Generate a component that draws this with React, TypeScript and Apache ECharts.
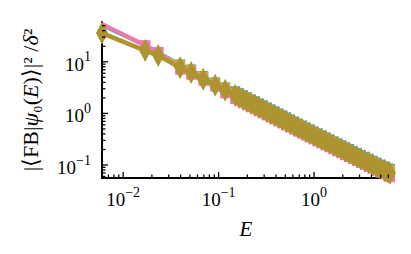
import React, { useEffect, useRef } from "react";
import * as echarts from "echarts";

// Energies (x) shared by all series
const E = [
  0.006, 0.017, 0.0233, 0.0395, 0.0515, 0.069, 0.092, 0.117,
  0.149, 0.164, 0.18, 0.198, 0.218, 0.24, 0.264, 0.29, 0.32, 0.35,
  0.385, 0.425, 0.465, 0.51, 0.56, 0.62, 0.68, 0.75, 0.82, 0.9,
  0.99, 1.09, 1.2, 1.32, 1.45, 1.6, 1.76, 1.93, 2.12, 2.33,
  2.56, 2.82, 3.1, 3.4, 3.75, 4.1, 4.5, 5.0, 5.5, 6.0, 6.25,
];

const blueY = [
  50, 20.5, 15.5, 8.9, 7.1, 5.3, 4.0, 3.2,
  2.7, 2.47, 2.26, 2.06, 1.88, 1.73, 1.57, 1.44, 1.31, 1.2,
  1.1, 1.0, 0.918, 0.84, 0.768, 0.696, 0.636, 0.582, 0.534, 0.492,
  0.45, 0.412, 0.377, 0.344, 0.316, 0.288, 0.264, 0.242, 0.222, 0.204,
  0.187, 0.172, 0.157, 0.144, 0.132, 0.121, 0.112, 0.102, 0.094, 0.086, 0.083,
];
const greenY = [
  51, 20.1, 15.2, 8.75, 7.0, 5.2, 3.93, 3.14,
  2.59, 2.37, 2.16, 1.98, 1.81, 1.66, 1.51, 1.38, 1.25, 1.15,
  1.05, 0.96, 0.88, 0.805, 0.736, 0.667, 0.61, 0.558, 0.512, 0.472,
  0.431, 0.394, 0.361, 0.33, 0.302, 0.276, 0.253, 0.232, 0.213, 0.196,
  0.179, 0.164, 0.151, 0.138, 0.127, 0.116, 0.107, 0.098, 0.09, 0.083, 0.079,
];
const orangeY = [
  55, 19.8, 15.0, 8.6, 6.9, 5.1, 3.86, 3.08,
  2.52, 2.31, 2.11, 1.93, 1.76, 1.61, 1.47, 1.34, 1.22, 1.12,
  1.02, 0.935, 0.857, 0.784, 0.717, 0.65, 0.594, 0.543, 0.498, 0.459,
  0.42, 0.384, 0.352, 0.321, 0.295, 0.269, 0.246, 0.226, 0.207, 0.19,
  0.175, 0.16, 0.147, 0.134, 0.123, 0.113, 0.104, 0.095, 0.087, 0.081, 0.077,
];
const pinkY = [
  54, 21, 15.5, 7.0, 5.6, 4.3, 3.3, 2.45,
  1.89, 1.73, 1.58, 1.44, 1.32, 1.21, 1.1, 1.01, 0.916, 0.84,
  0.769, 0.701, 0.643, 0.588, 0.538, 0.487, 0.445, 0.407, 0.374, 0.344,
  0.315, 0.288, 0.264, 0.241, 0.221, 0.202, 0.185, 0.17, 0.155, 0.143,
  0.131, 0.12, 0.11, 0.101, 0.092, 0.085, 0.078, 0.071, 0.066, 0.06, 0.058,
];
const oliveY = [
  36, 16.5, 13.2, 7.7, 6.2, 4.6, 3.5, 2.8,
  2.25, 2.06, 1.88, 1.72, 1.57, 1.44, 1.31, 1.2, 1.09, 1.0,
  0.915, 0.835, 0.765, 0.7, 0.64, 0.58, 0.53, 0.485, 0.445, 0.41,
  0.375, 0.343, 0.314, 0.287, 0.263, 0.24, 0.22, 0.202, 0.185, 0.17,
  0.156, 0.143, 0.131, 0.12, 0.11, 0.101, 0.093, 0.085, 0.078, 0.072, 0.069,
];

const X_MIN = 0.006;
const X_MAX = 6.25;
const Y_MIN = 0.056;
const Y_MAX = 59;

const X_MAJOR = [0.01, 0.1, 1];
const X_MINOR = [
  0.006, 0.007, 0.008, 0.009,
  0.02, 0.03, 0.04, 0.05, 0.06, 0.07, 0.08, 0.09,
  0.2, 0.3, 0.4, 0.5, 0.6, 0.7, 0.8, 0.9,
  2, 3, 4, 5, 6,
];
const Y_MAJOR = [0.1, 1, 10];
const Y_MINOR = [
  0.06, 0.07, 0.08, 0.09,
  0.2, 0.3, 0.4, 0.5, 0.6, 0.7, 0.8, 0.9,
  2, 3, 4, 5, 6, 7, 8, 9,
  20, 30, 40, 50,
];

const COLORS = {
  blue: "#4aaee0",
  green: "#4fb07a",
  orange: "#e6a040",
  pink: "#ee78b4",
  olive: "#ae9331",
};

const FONT = "Liberation Serif";
const DIAMOND = "path://M0,-10L5,0L0,10L-5,0Z";

const powLabel = (v: number) => {
  const l = Math.log10(v);
  const k = Math.round(l);
  if (Math.abs(l - k) > 1e-6) return "";
  const s = k < 0 ? "\u2212" + -k : String(k);
  return `{b|10}{s|${s}}`;
};

const labelRich = {
  b: { fontSize: 19, fontFamily: FONT, color: "#000", lineHeight: 24, verticalAlign: "bottom" },
  s: { fontSize: 14, fontFamily: FONT, color: "#000", lineHeight: 24, verticalAlign: "top" },
};

export default function App() {
  const ref = useRef<HTMLDivElement>(null);
  useEffect(() => {
    if (!ref.current) return;
    const chart = echarts.init(ref.current, null, { renderer: "svg" });

    const mk = (
      name: string,
      ys: number[],
      color: string,
      symbol: string,
      size: any,
      lw: number,
      z: number,
      hideFirst: boolean
    ) => ({
      name,
      type: "line",
      z,
      data: E.map((e, i) =>
        i === 0 && hideFirst ? { value: [e, ys[i]], symbol: "none" } : [e, ys[i]]
      ),
      symbol,
      symbolSize: size,
      symbolKeepAspect: false,
      showSymbol: true,
      showAllSymbol: true,
      lineStyle: { color, width: lw },
      itemStyle: { color, borderWidth: 0 },
      clip: true,
      silent: true,
    });

    const xTick = (vals: number[], len: number) => ({
      type: "custom",
      silent: true,
      clip: false,
      data: vals.map((v) => [v, Y_MIN, len]),
      renderItem: (_p: any, api: any) => {
        const p = api.coord([api.value(0), api.value(1)]);
        const l = api.value(2);
        return {
          type: "line",
          shape: { x1: p[0], y1: p[1], x2: p[0], y2: p[1] - l },
          style: { stroke: "#000", lineWidth: 1.3 },
        };
      },
      z: 10,
    });
    const yTick = (vals: number[], len: number) => ({
      type: "custom",
      silent: true,
      clip: false,
      data: vals.map((v) => [X_MIN, v, len]),
      renderItem: (_p: any, api: any) => {
        const p = api.coord([api.value(0), api.value(1)]);
        const l = api.value(2);
        return {
          type: "line",
          shape: { x1: p[0], y1: p[1], x2: p[0] + l, y2: p[1] },
          style: { stroke: "#000", lineWidth: 1.3 },
        };
      },
      z: 10,
    });

    chart.setOption({
      animation: false,
      backgroundColor: "#fff",
      textStyle: { fontFamily: FONT },
      grid: { left: 102, top: 22, right: 21, bottom: 76, containLabel: false },
      xAxis: {
        type: "log",
        logBase: 10,
        min: X_MIN,
        max: X_MAX,
        name: "E",
        nameLocation: "middle",
        nameGap: 40,
        nameTextStyle: { fontFamily: FONT, fontSize: 21, fontStyle: "italic", color: "#000" },
        axisLine: { show: true, onZero: false, lineStyle: { color: "#000", width: 2 } },
        axisTick: { show: false },
        splitLine: { show: false },
        minorTick: { show: false },
        axisLabel: {
          formatter: powLabel,
          rich: labelRich,
          margin: 7,
          showMinLabel: false,
          showMaxLabel: false,
          color: "#000",
        },
      },
      yAxis: {
        type: "log",
        logBase: 10,
        min: Y_MIN,
        max: Y_MAX,
        name:
          "|\u27e8FB|{i|\u03c8}{a|\u2080(}{i|E}{a|)\u27e9|\u00b2 /}{i|\u03b4}{a|\u00b2}",
        nameLocation: "middle",
        nameGap: 61,
        nameRotate: 90,
        nameTextStyle: {
          fontFamily: FONT,
          fontSize: 22,
          color: "#000",
          rich: {
            i: { fontFamily: FONT, fontSize: 22, fontStyle: "italic", color: "#000" },
            a: { fontFamily: FONT, fontSize: 22, color: "#000" },
          },
        },
        axisLine: { show: true, onZero: false, lineStyle: { color: "#000", width: 2 } },
        axisTick: { show: false },
        splitLine: { show: false },
        minorTick: { show: false },
        axisLabel: {
          formatter: powLabel,
          rich: labelRich,
          margin: 11,
          showMinLabel: false,
          showMaxLabel: false,
          color: "#000",
        },
      },
      series: [
        mk("blue", blueY, COLORS.blue, "rect", 10, 3, 2, true),
        mk("green", greenY, COLORS.green, "rect", 10, 3, 3, true),
        mk("orange", orangeY, COLORS.orange, "rect", 10, 3, 4, true),
        mk("pink", pinkY, COLORS.pink, "rect", 10, 4, 5, true),
        mk("olive", oliveY, COLORS.olive, DIAMOND, [12, 23], 4.5, 6, false),
        xTick(X_MAJOR, 6),
        xTick(X_MINOR, 3.5),
        yTick(Y_MAJOR, 6),
        yTick(Y_MINOR, 3.5),
      ],
    });
    return () => chart.dispose();
  }, []);
  return <div ref={ref} style={{ width: 411, height: 254, margin: -8 }} />;
}
